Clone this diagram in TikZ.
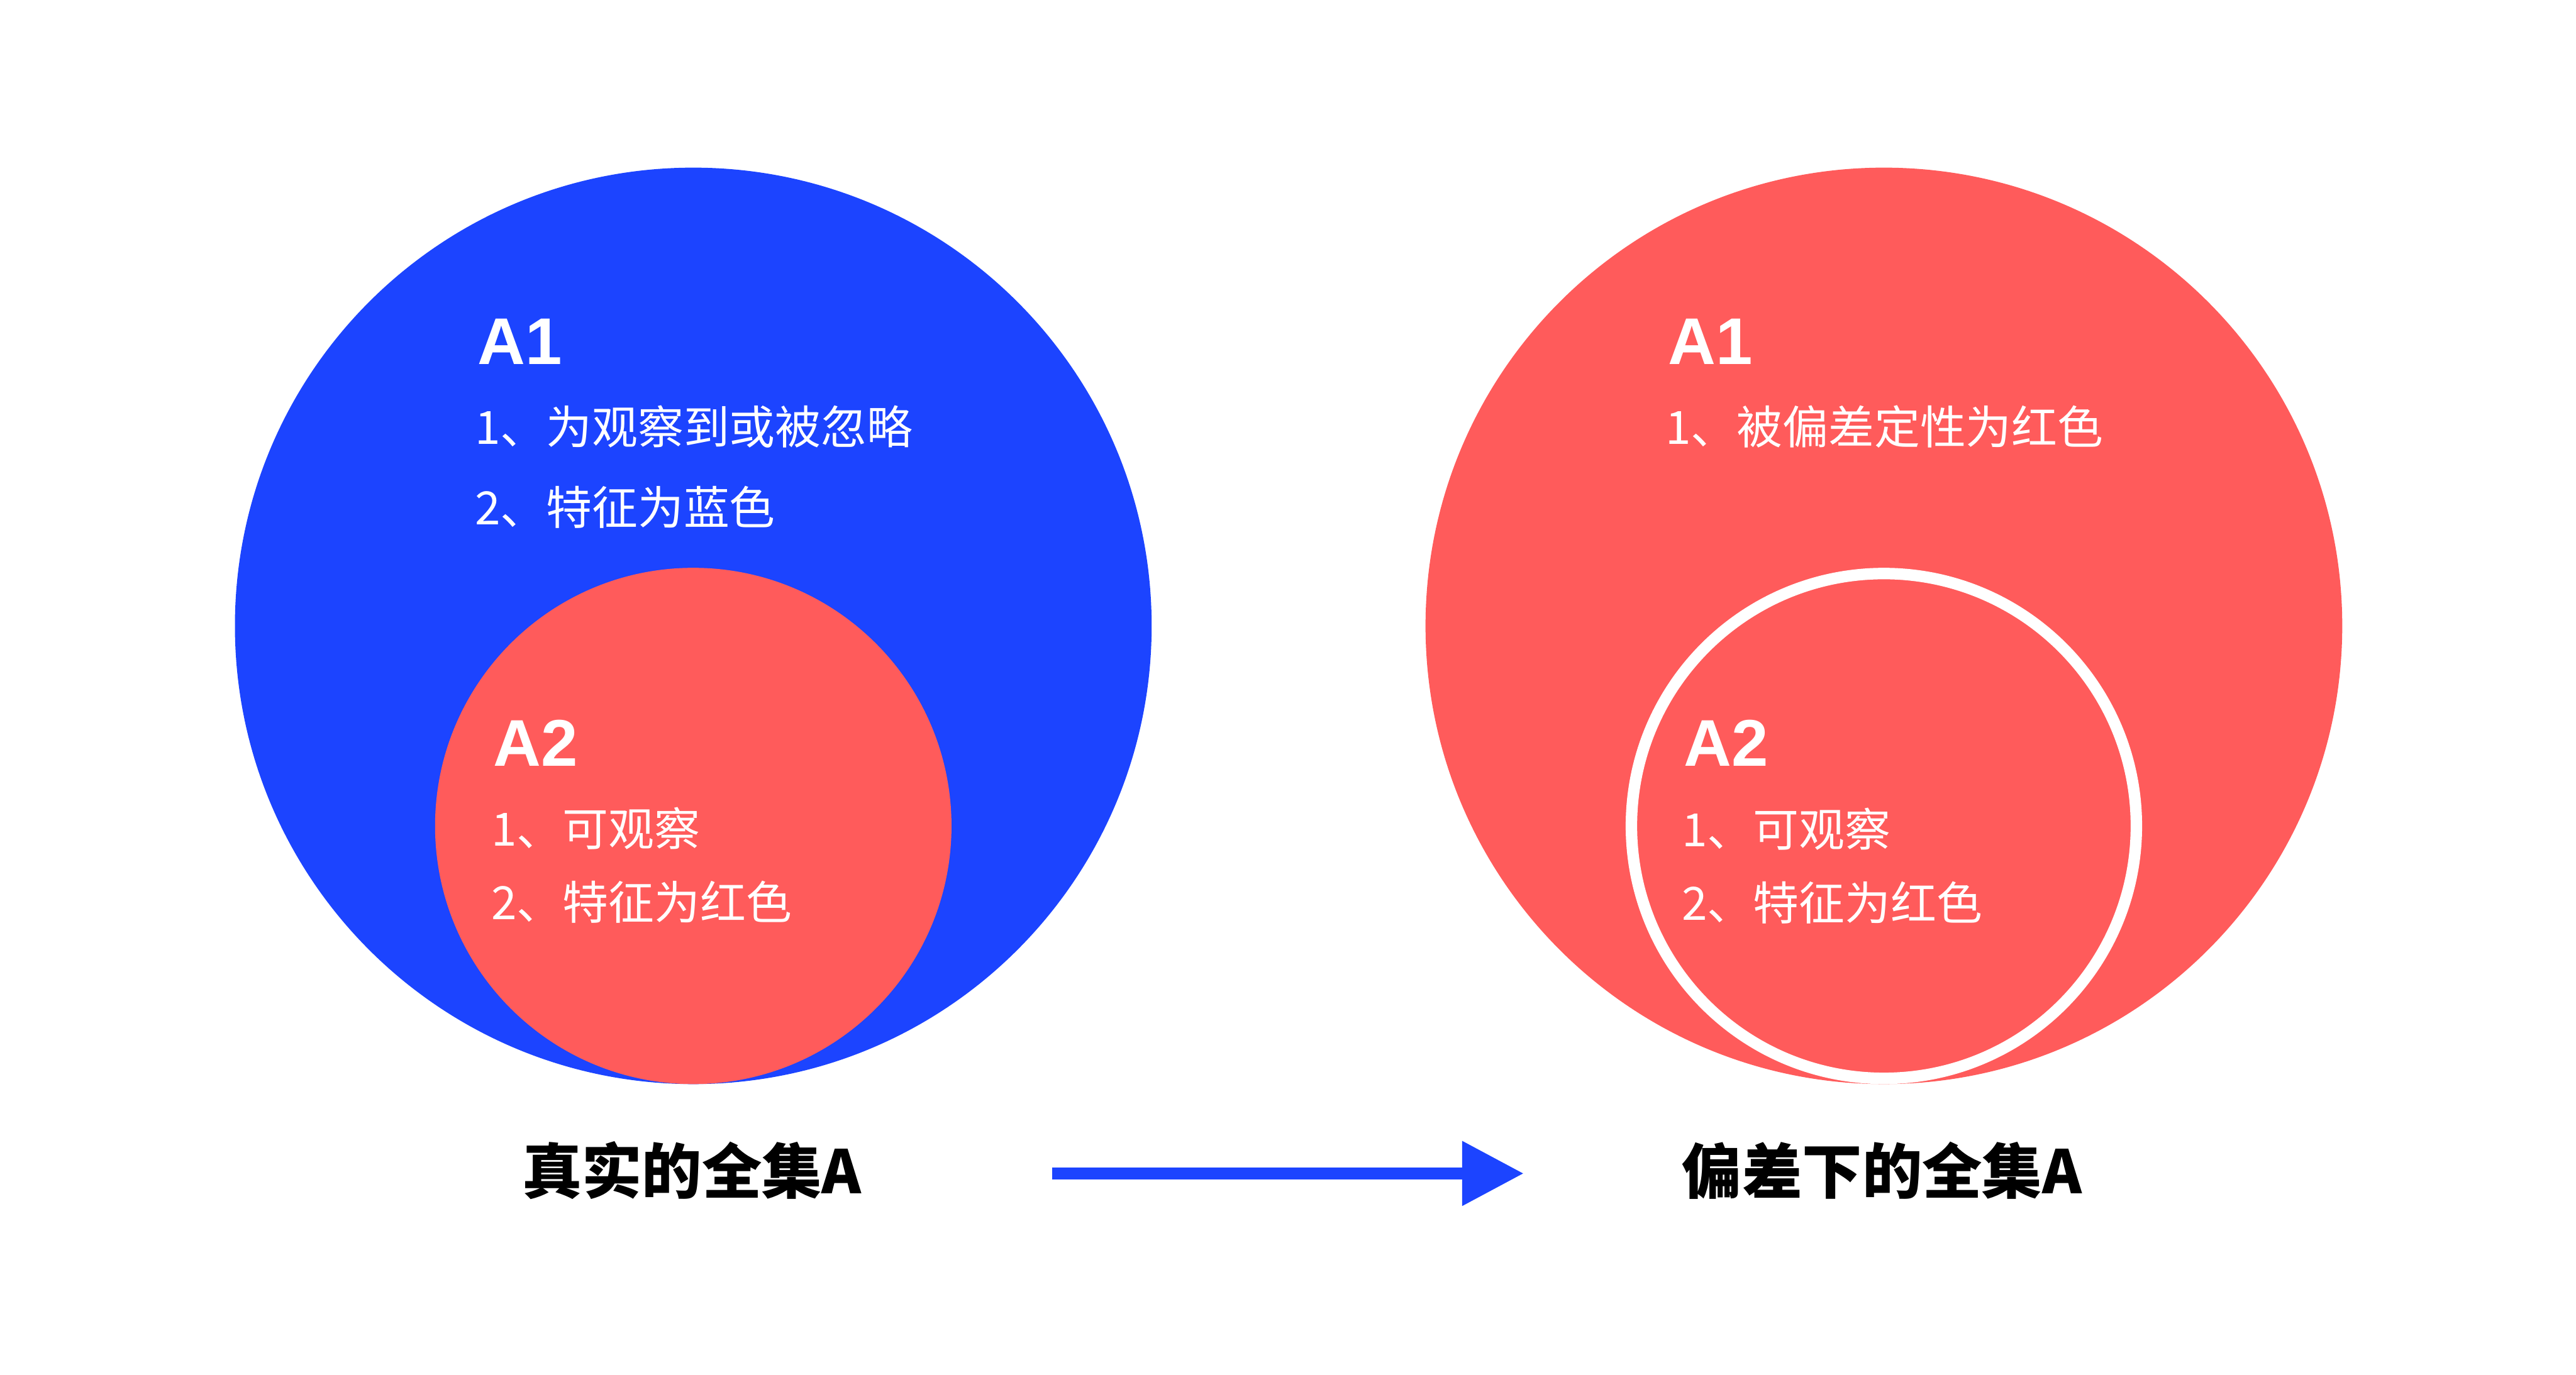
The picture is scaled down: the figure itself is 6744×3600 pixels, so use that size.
\documentclass[tikz,border=0pt]{standalone}
\usepackage{fontspec}
\setmainfont{Noto Sans CJK SC}
\newfontfamily\titlefont{Liberation Sans}
\usetikzlibrary{arrows.meta}
\definecolor{setblue}{RGB}{28,68,255}
\definecolor{setred}{RGB}{255,91,91}
\tikzset{
  bigtitle/.style={anchor=base west,inner sep=0pt,text=white,font=\titlefont\bfseries\fontsize{173pt}{180pt}\selectfont},
  bodyline/.style={anchor=base west,inner sep=0pt,text=white,font=\fontsize{120pt}{140pt}\selectfont},
  caption/.style={anchor=base,inner sep=0pt,text=black,font=\bfseries\fontsize{157pt}{170pt}\selectfont},
  ringline/.style={draw=white,line width=30pt},
  flowarrow/.style={draw=setblue,line width=30pt,-{Triangle[length=161pt,width=162pt]}}
}
\begin{document}
\begin{tikzpicture}[x=1pt,y=-1pt]
\useasboundingbox (0,0) rectangle (6744,3600);
\fill[white] (0,0) rectangle (6744,3600);
% left
\fill[setblue] (1815,1639) circle (1200);
\fill[setred] (1815,2163) circle (676);
\node[bigtitle] (lA1) at (1251,954) {A1};
\node[bodyline] (lA1a) at (1243,1164) {1、为观察到或被忽略};
\node[bodyline] (lA1b) at (1243,1374) {2、特征为蓝色};
\node[bigtitle] (lA2) at (1292,2007) {A2};
\node[bodyline] (lA2a) at (1286,2216) {1、可观察};
\node[bodyline] (lA2b) at (1286,2408) {2、特征为红色};
\node[caption] (lcap) at (1811,3126) {真实的全集A};
% right
\fill[setred] (4932,1639) circle (1200);
\draw[ringline] (4932,2163) circle (661);
\node[bigtitle] (rA1) at (4367,954) {A1};
\node[bodyline] (rA1a) at (4360,1164) {1、被偏差定性为红色};
\node[bigtitle] (rA2) at (4409,2007) {A2};
\node[bodyline] (rA2a) at (4403,2217) {1、可观察};
\node[bodyline] (rA2b) at (4403,2410) {2、特征为红色};
\node[caption] (rcap) at (4927,3126) {偏差下的全集A};
% arrow
\coordinate (arrS) at (2754,3073);
\coordinate (arrE) at (3989,3073);
\draw[flowarrow] (arrS) -- (arrE);
\end{tikzpicture}
\end{document}
